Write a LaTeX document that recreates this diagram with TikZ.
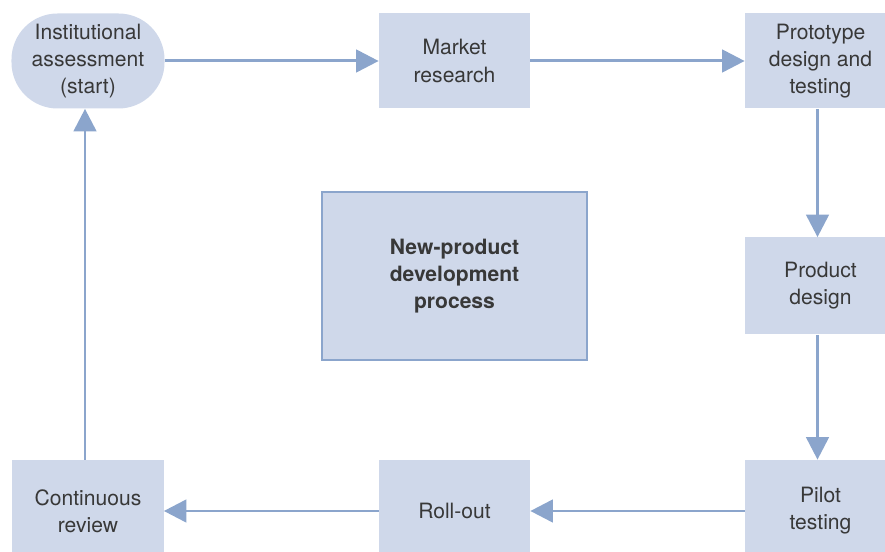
\documentclass[tikz,border=0pt]{standalone}
\usepackage{fontspec}
\setmainfont{TeX Gyre Heros}
\usepackage{tikz}
\usetikzlibrary{shapes,arrows.meta}
\definecolor{boxfill}{HTML}{CFD8EA}
\definecolor{linkblue}{HTML}{8BA5CC}
\definecolor{textgray}{HTML}{383838}
\tikzstyle{stepbox} = [fill=boxfill, text=textgray, align=center, minimum width=3.02cm, minimum height=1.9cm, font=\fontsize{12}{15.4}\selectfont]
\tikzstyle{arrow} = [draw=linkblue, line width=1.7pt, -{Triangle[length=0.45cm, width=0.45cm]}]

\begin{document}
\begin{tikzpicture}
\useasboundingbox (0,0) rectangle (17.7,-11.04);

\node[stepbox, rounded corners=0.92cm, minimum width=3.06cm] at (1.76,-1.22) (inst) {Institutional\\assessment\\(start)};
\node[stepbox] at (9.09,-1.22) (market) {Market\\research};
\node[stepbox] at (16.41,-1.22) (proto) {Prototype\\design and\\testing};
\node[stepbox, minimum height=1.94cm] at (16.41,-5.72) (design) {Product\\design};
\node[stepbox, minimum height=2.04cm] at (16.41,-10.22) (pilot) {Pilot\\testing};
\node[stepbox, minimum height=2.04cm] at (9.09,-10.22) (rollout) {Roll-out};
\node[stepbox, minimum height=2.04cm] at (1.76,-10.22) (review) {Continuous\\review};

\node[stepbox, draw=linkblue, line width=1pt, minimum width=5.3cm, minimum height=3.36cm, font=\fontsize{12}{15.4}\selectfont\bfseries] at (9.09,-5.52) (process) {New-product\\development\\process};

\path[arrow] (inst) to (market);
\path[arrow] (market) to (proto);
\path[arrow] ([xshift=-0.06cm]proto.south) to ([xshift=-0.06cm]design.north);
\path[arrow] ([xshift=-0.06cm]design.south) to ([xshift=-0.06cm]pilot.north);
\path[arrow] (pilot) to (rollout);
\path[arrow] (rollout) to (review);
\path[arrow] ([xshift=-0.06cm]review.north) to ([xshift=-0.06cm]inst.south);
\end{tikzpicture}
\end{document}
